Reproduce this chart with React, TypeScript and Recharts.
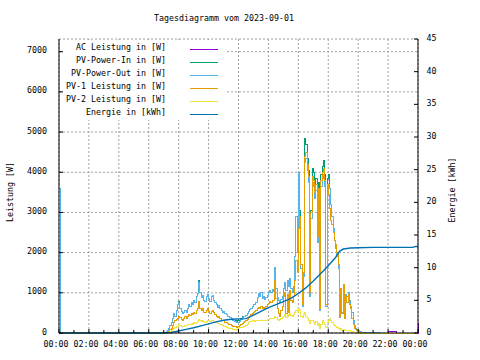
import React from 'react';
import { LineChart, Line, XAxis, YAxis, CartesianGrid, Legend } from 'recharts';

const FONT = '"DejaVu Sans Mono", "Liberation Mono", monospace';
const FS = 8.3;

const TITLE = 'Tagesdiagramm vom 2023-09-01';
const Y_LABEL = 'Leistung [W]';
const Y2_LABEL = 'Energie [kWh]';

const SERIES_NAMES = [
  'AC Leistung in [W]',
  'PV-Power-In in [W]',
  'PV-Power-Out in [W]',
  'PV-1 Leistung in [W]',
  'PV-2 Leistung in [W]',
  'Energie in [kWh]',
];
const COLORS = ['#9400d3', '#009e73', '#56b4e9', '#e69f00', '#f0e442', '#0072b2'];

// x axis in minutes since midnight
const X_TICKS = [0, 60, 120, 180, 240, 300, 360, 420, 480, 540, 600, 660, 720, 780, 840, 900, 960, 1020, 1080, 1140, 1200, 1260, 1320, 1380, 1440];
const GRID_X = [0, 120, 240, 360, 480, 600, 720, 840, 960, 1080, 1200, 1320, 1440];
const W_TICKS = [0, 1000, 2000, 3000, 4000, 5000, 6000, 7000];
const KWH_TICKS = [0, 5, 10, 15, 20, 25, 30, 35, 40, 45];

// 5-minute samples from 07:00 to 20:55
const DAY_START = 420;
const DAY_STEP = 5;

const AC = [
  0, 10, 30, 60, 100, 180, 260, 350, 480, 420, 560, 700,
  760, 620, 540, 480, 520, 560, 500, 620, 700, 650, 760, 700,
  820, 760, 900, 980, 1260, 1000, 880, 940, 820, 780, 900, 960,
  860, 780, 900, 940, 820, 760, 700, 640, 680, 600, 560, 520,
  540, 480, 460, 420, 400, 380, 360, 320, 300, 280, 260, 270,
  250, 280, 330, 380, 400, 420, 440, 480, 540, 580, 620, 660,
  700, 720, 760, 880, 980, 920, 1000, 860, 900, 840, 880, 940,
  1000, 1060, 1000, 1080, 1040, 1620, 1100, 880, 800, 760, 840, 900,
  1100, 1250, 1050, 1300, 1150, 1350, 1100, 1000, 1150, 1900, 2900, 2000,
  4000, 2700, 1600, 650, 1400, 4250, 4350, 4050, 3750, 900, 2850, 3750,
  3650, 3350, 3550, 2250, 3450, 550, 3650, 3850, 3950, 3650, 650, 3550,
  3700, 3600, 3200, 2900, 2600, 2300, 2100, 1900, 1600, 380, 1050, 480,
  1150, 600, 950, 900, 1000, 800, 650, 500, 300, 180, 120, 90,
  60, 40, 30, 20, 15, 10, 20, 20, 20, 20, 20, 20,
];

const PV_IN = [
  0, 10, 30, 60, 100, 180, 260, 350, 480, 420, 560, 700,
  790, 620, 540, 480, 520, 560, 500, 620, 700, 650, 760, 700,
  820, 760, 900, 980, 1300, 1000, 880, 940, 820, 780, 900, 960,
  860, 780, 900, 940, 820, 760, 700, 640, 680, 600, 560, 520,
  540, 480, 460, 420, 400, 380, 360, 330, 320, 300, 290, 300,
  300, 320, 360, 400, 410, 420, 440, 480, 540, 580, 620, 660,
  700, 720, 760, 880, 980, 920, 1000, 860, 900, 840, 880, 940,
  1000, 1060, 1000, 1080, 1040, 1620, 1100, 880, 800, 760, 840, 900,
  1100, 1250, 1050, 1300, 1150, 1350, 1100, 1000, 1150, 1900, 2900, 2000,
  3900, 3050, 1700, 650, 1400, 4850, 4700, 4350, 4050, 900, 3050, 4100,
  4000, 3650, 3850, 2400, 3750, 550, 3950, 4150, 4300, 3950, 650, 3850,
  3950, 3600, 3200, 2900, 2600, 2300, 2150, 1950, 1650, 380, 1050, 480,
  1150, 600, 950, 900, 1000, 800, 650, 500, 300, 180, 120, 90,
  60, 40, 30, 20, 15, 10, 20, 20, 20, 20, 20, 20,
];

const PV_OUT = [
  0, 10, 30, 60, 100, 180, 260, 350, 480, 420, 560, 700,
  760, 620, 540, 480, 520, 560, 500, 620, 700, 650, 760, 700,
  820, 760, 900, 980, 1260, 1000, 880, 940, 820, 780, 900, 960,
  860, 780, 900, 940, 820, 760, 700, 640, 680, 600, 560, 520,
  540, 480, 460, 420, 400, 380, 360, 320, 300, 280, 260, 270,
  250, 280, 330, 380, 400, 420, 440, 480, 540, 580, 620, 660,
  700, 720, 760, 880, 980, 920, 1000, 860, 900, 840, 880, 940,
  1000, 1060, 1000, 1080, 1040, 1620, 1100, 880, 800, 760, 840, 900,
  1100, 1250, 1050, 1300, 1150, 1350, 1100, 1000, 1150, 1900, 2900, 2000,
  4000, 2700, 1600, 650, 1400, 4250, 4350, 4050, 3750, 900, 2850, 3750,
  3650, 3350, 3550, 2250, 3450, 550, 3650, 3850, 3950, 3650, 650, 3550,
  3700, 3600, 3200, 2900, 2600, 2300, 2100, 1900, 1600, 380, 1050, 480,
  1150, 600, 950, 900, 1000, 800, 650, 500, 300, 180, 120, 90,
  60, 40, 30, 20, 15, 10, 20, 20, 20, 20, 20, 20,
];

const PV1 = [
  0, 0, 10, 20, 40, 80, 120, 180, 250, 300, 330, 360,
  420, 380, 330, 300, 350, 400, 360, 420, 460, 430, 480, 450,
  520, 480, 560, 600, 780, 620, 560, 600, 520, 500, 560, 600,
  540, 480, 540, 560, 500, 460, 420, 380, 400, 360, 320, 300,
  300, 270, 250, 230, 220, 200, 190, 170, 160, 150, 140, 150,
  160, 180, 210, 240, 260, 280, 300, 330, 380, 420, 450, 480,
  520, 540, 560, 600, 640, 620, 660, 600, 640, 620, 660, 700,
  740, 780, 760, 820, 800, 1300, 850, 600, 480, 420, 560, 650,
  900, 1000, 480, 950, 500, 1050, 800, 750, 900, 1300, 1800, 1500,
  2600, 2900, 1700, 700, 1500, 4400, 4500, 4200, 3900, 1000, 3000, 3900,
  3800, 3500, 3700, 2400, 3600, 600, 3800, 4000, 4100, 3800, 700, 3700,
  3450, 3100, 2800, 2700, 2500, 2300, 2200, 2000, 1700, 400, 1100, 500,
  1200, 350, 900, 750, 950, 700, 600, 350, 200, 120, 80, 60,
  40, 20, 10, 0, 0, 0, 0, 0, 0, 0, 0, 0,
];

const PV2 = [
  0, 0, 0, 10, 20, 40, 60, 80, 110, 130, 150, 170,
  200, 180, 160, 150, 170, 190, 180, 200, 220, 210, 230, 220,
  250, 240, 270, 290, 330, 300, 280, 300, 280, 270, 290, 310,
  300, 280, 300, 310, 290, 270, 250, 230, 240, 220, 200, 180,
  170, 150, 140, 130, 120, 110, 100, 90, 80, 80, 70, 80,
  130, 130, 140, 140, 150, 160, 180, 220, 260, 280, 290, 300,
  300, 290, 300, 310, 320, 310, 320, 300, 310, 300, 320, 330,
  340, 360, 350, 370, 360, 400, 380, 340, 320, 330, 360, 380,
  420, 460, 380, 470, 400, 480, 440, 420, 460, 500, 560, 520,
  620, 560, 420, 380, 460, 500, 420, 360, 300, 240, 320, 300,
  260, 200, 280, 180, 240, 120, 220, 300, 260, 200, 140, 260,
  320, 360, 300, 260, 220, 180, 160, 140, 120, 80, 100, 70,
  90, 50, 70, 60, 60, 50, 40, 30, 20, 15, 10, 5,
  0, 0, 0, 0, 0, 0, 0, 0, 0, 0, 0, 0,
];

// samples outside the daylight window
const EDGE_TIMES = [0, 5, 1260, 1290, 1320, 1355, 1435, 1440];
const EDGE_AC = [2000, 0, 0, 0, 40, 0, 0, 250];
const EDGE_PV_IN = [0, 0, 20, 0, 0, 0, 0, 0];
const EDGE_PV_OUT = [3600, 0, 20, 0, 0, 0, 0, 0];
const EDGE_PV1 = [0, 0, 0, 0, 0, 0, 0, 0];
const EDGE_PV2 = [0, 0, 0, 0, 0, 0, 0, 0];

const ENERGY_TIMES = [0, 420, 450, 480, 510, 540, 570, 600, 630, 660, 690, 750, 780, 810, 840, 870, 900, 930, 960, 990, 1020, 1050, 1080, 1110, 1125, 1140, 1170, 1200, 1260, 1420, 1430, 1440];
const ENERGY_KWH = [0, 0, 0.08, 0.3, 0.55, 0.8, 1.1, 1.4, 1.7, 1.95, 2.1, 2.2, 2.75, 3.3, 3.9, 4.35, 4.8, 5.3, 6.05, 6.9, 7.95, 9.1, 10.3, 11.6, 12.5, 12.85, 13.0, 13.05, 13.1, 13.1, 13.25, 13.25];

type Row = { t: number; ac: number; pvIn: number; pvOut: number; pv1: number; pv2: number };

const ROWS: Row[] = [];
EDGE_TIMES.forEach((t, i) =>
  ROWS.push({ t, ac: EDGE_AC[i], pvIn: EDGE_PV_IN[i], pvOut: EDGE_PV_OUT[i], pv1: EDGE_PV1[i], pv2: EDGE_PV2[i] })
);
AC.forEach((_, i) =>
  ROWS.push({ t: DAY_START + i * DAY_STEP, ac: AC[i], pvIn: PV_IN[i], pvOut: PV_OUT[i], pv1: PV1[i], pv2: PV2[i] })
);
ROWS.sort((a, b) => a.t - b.t);

const ENERGY_ROWS = ENERGY_TIMES.map((t, i) => ({ t, e: ENERGY_KWH[i] }));

const fmtTime = (m: number) => {
  const h = Math.floor(m / 60) % 24;
  const mm = m % 60;
  return `${String(h).padStart(2, '0')}:${String(mm).padStart(2, '0')}`;
};

const textStyle = { fontFamily: FONT, fontSize: FS, fill: '#000' };

const LeftTick = (props: any) => {
  const { x, y, payload } = props;
  return (
    <g>
      <line x1={x} x2={x + 4} y1={y} y2={y} stroke="#000" />
      <text x={x - 12} y={y + 1.5} textAnchor="end" style={textStyle}>{payload.value}</text>
    </g>
  );
};

const RightTick = (props: any) => {
  const { x, y, payload } = props;
  return (
    <g>
      <line x1={x} x2={x - 4} y1={y} y2={y} stroke="#000" />
      <text x={x + 8.5} y={y + 2} textAnchor="start" style={textStyle}>{payload.value}</text>
    </g>
  );
};

const BottomTick = (props: any) => {
  const { x, y, payload } = props;
  const v = payload.value as number;
  const major = v % 120 === 0;
  return (
    <g>
      <line x1={x} x2={x} y1={y} y2={y - (major ? 4 : 3)} stroke="#000" />
      {major && (
        <text x={x - 3} y={y + 14} textAnchor="middle" style={textStyle}>{fmtTime(v)}</text>
      )}
    </g>
  );
};

const TopTick = (props: any) => {
  const { x, y } = props;
  return <line x1={x} x2={x} y1={y} y2={y + 4} stroke="#000" />;
};

const renderLegend = (props: any) => {
  const items = [...(props.payload || [])].sort(
    (a: any, b: any) => SERIES_NAMES.indexOf(a.value) - SERIES_NAMES.indexOf(b.value)
  );
  return (
    <div style={{ width: 162, height: 80, background: '#fff' }}>
      <svg width={162} height={80} style={{ display: 'block' }}>
        {items.map((it: any, i: number) => (
          <g key={it.value}>
            <text x={103} y={10 + i * 13} textAnchor="end" style={textStyle}>{it.value}</text>
            <line x1={127} x2={155} y1={9.5 + i * 13} y2={9.5 + i * 13} stroke={it.color} strokeWidth={1} shapeRendering="crispEdges" />
          </g>
        ))}
      </svg>
    </div>
  );
};

const labelBase: React.CSSProperties = {
  position: 'absolute',
  fontFamily: FONT,
  fontSize: FS,
  lineHeight: 1,
  whiteSpace: 'nowrap',
  color: '#000',
};

export default function App() {
  return (
    <div style={{ position: 'relative', width: 480, height: 360, background: '#fff' }}>
      <style>{'body{margin:0;background:#fff}'}</style>
      <LineChart width={480} height={360} data={ROWS} margin={{ top: 39, right: 0, bottom: 0, left: 0 }}>
        <CartesianGrid xAxisId="top" yAxisId="left" stroke="#a0a0a0" strokeDasharray="2 2" />
        <XAxis
          xAxisId="bottom"
          type="number"
          dataKey="t"
          domain={[0, 1440]}
          ticks={X_TICKS}
          interval={0}
          height={27}
          tickSize={0}
          tickMargin={0}
          tickLine={false}
          axisLine={{ stroke: '#000' }}
          tick={<BottomTick />}
        />
        <XAxis
          xAxisId="top"
          orientation="top"
          type="number"
          dataKey="t"
          domain={[0, 1440]}
          ticks={GRID_X}
          interval={0}
          height={0}
          tickSize={0}
          tickMargin={0}
          tickLine={false}
          axisLine={{ stroke: '#000' }}
          tick={<TopTick />}
        />
        <YAxis
          yAxisId="left"
          orientation="left"
          type="number"
          domain={[0, 7315]}
          ticks={W_TICKS}
          interval={0}
          width={59}
          tickSize={0}
          tickMargin={0}
          tickLine={false}
          axisLine={{ stroke: '#000' }}
          tick={<LeftTick />}
        />
        <YAxis
          yAxisId="right"
          orientation="right"
          type="number"
          domain={[0, 45]}
          ticks={KWH_TICKS}
          interval={0}
          width={62}
          tickSize={0}
          tickMargin={0}
          tickLine={false}
          axisLine={{ stroke: '#000' }}
          tick={<RightTick />}
        />
        <Legend
          layout="horizontal"
          verticalAlign="middle"
          align="center"
          content={renderLegend}
          wrapperStyle={{ position: 'absolute', left: 63, top: 40, width: 162, height: 80 }}
        />
        <Line xAxisId="bottom" yAxisId="left" type="stepAfter" dataKey="ac" name={SERIES_NAMES[0]} stroke={COLORS[0]} strokeWidth={1} dot={false} activeDot={false} isAnimationActive={false} shapeRendering="crispEdges" />
        <Line xAxisId="bottom" yAxisId="left" type="stepAfter" dataKey="pvIn" name={SERIES_NAMES[1]} stroke={COLORS[1]} strokeWidth={1} dot={false} activeDot={false} isAnimationActive={false} shapeRendering="crispEdges" />
        <Line xAxisId="bottom" yAxisId="left" type="stepAfter" dataKey="pvOut" name={SERIES_NAMES[2]} stroke={COLORS[2]} strokeWidth={1} dot={false} activeDot={false} isAnimationActive={false} shapeRendering="crispEdges" />
        <Line xAxisId="bottom" yAxisId="left" type="stepAfter" dataKey="pv1" name={SERIES_NAMES[3]} stroke={COLORS[3]} strokeWidth={1} dot={false} activeDot={false} isAnimationActive={false} shapeRendering="crispEdges" />
        <Line xAxisId="bottom" yAxisId="left" type="stepAfter" dataKey="pv2" name={SERIES_NAMES[4]} stroke={COLORS[4]} strokeWidth={1} dot={false} activeDot={false} isAnimationActive={false} shapeRendering="crispEdges" />
        <Line xAxisId="bottom" yAxisId="right" type="linear" data={ENERGY_ROWS} dataKey="e" name={SERIES_NAMES[5]} stroke={COLORS[5]} strokeWidth={1.4} dot={false} activeDot={false} isAnimationActive={false} />
      </LineChart>
      <div style={{ ...labelBase, left: 224, top: 18, transform: 'translate(-50%, -50%)' }}>{TITLE}</div>
      <div style={{ ...labelBase, left: 9.5, top: 192, transform: 'translate(-50%, -50%) rotate(-90deg)' }}>{Y_LABEL}</div>
      <div style={{ ...labelBase, left: 451.5, top: 190, transform: 'translate(-50%, -50%) rotate(-90deg)' }}>{Y2_LABEL}</div>
    </div>
  );
}
